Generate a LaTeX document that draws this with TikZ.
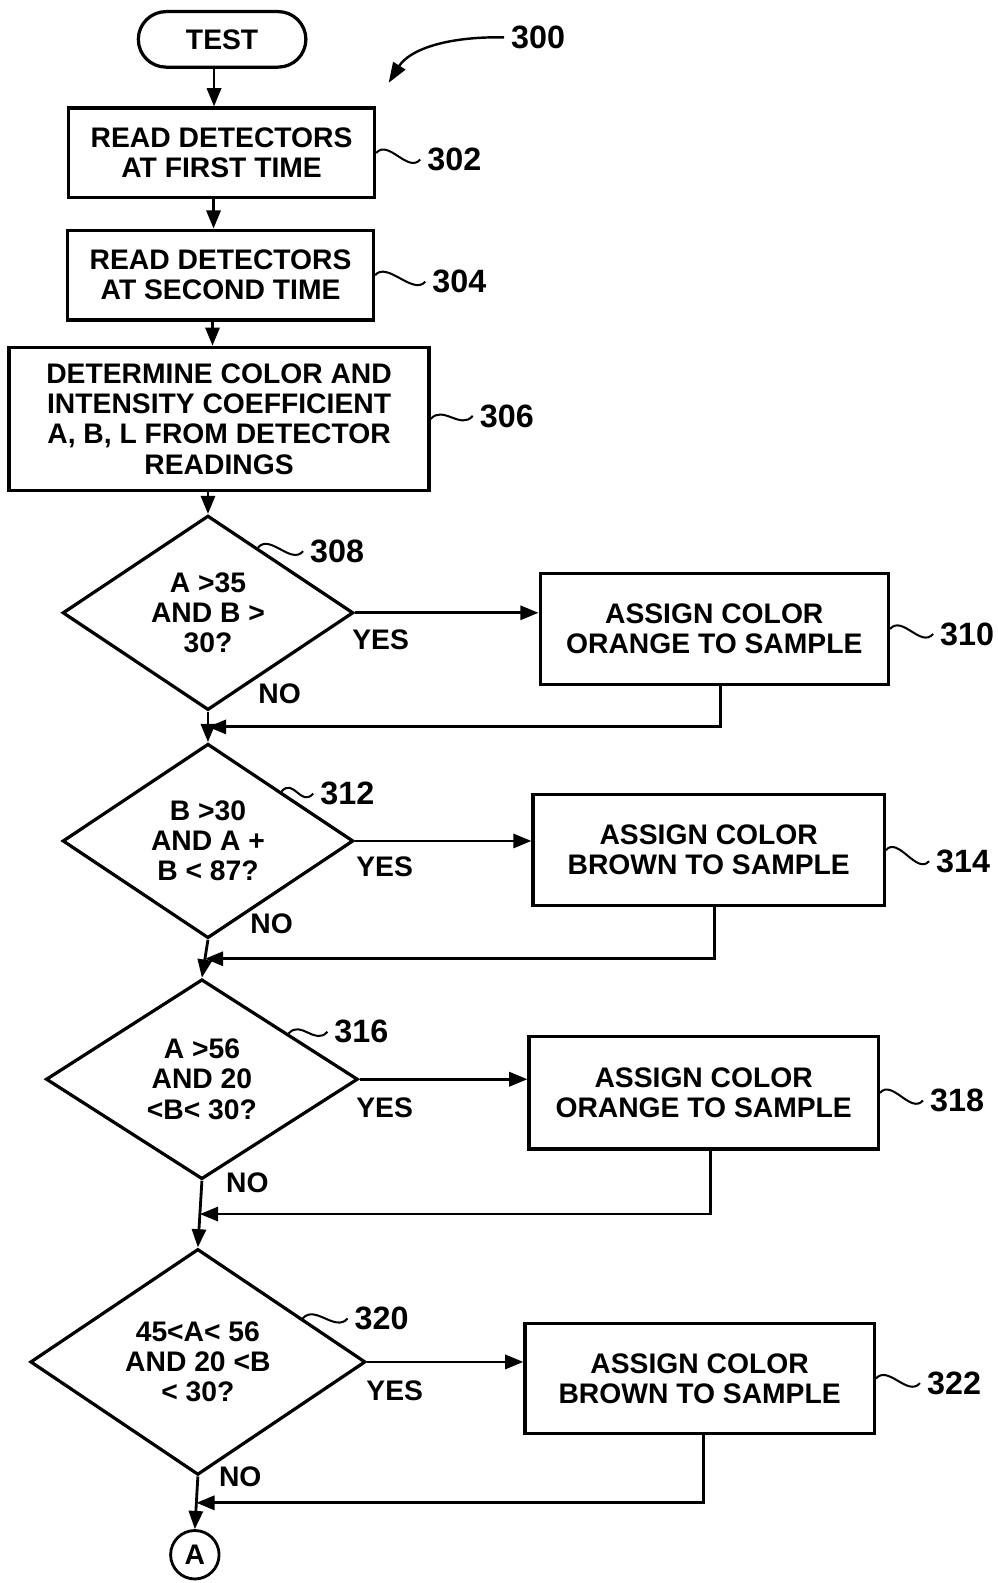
\documentclass[tikz,border=0pt]{standalone}
\usepackage{fontspec}
\setmainfont{Liberation Sans}
\usetikzlibrary{arrows.meta, shapes.geometric, shapes.misc, calc}

\begin{document}
\begin{tikzpicture}[x=0.5pt, y=-0.5pt,
    every node/.style={font=\fontsize{14}{15}\selectfont\bfseries},
    box/.style={draw, line width=1.6pt, align=center, inner sep=0pt},
    term/.style={draw, rounded rectangle, line width=1.6pt, inner sep=0pt,
                 minimum width=83pt, minimum height=27.5pt},
    decision/.style={draw, diamond, line width=1.6pt, align=center, inner sep=0pt},
    conn/.style={draw, circle, line width=1.4pt, inner sep=0pt, minimum size=24pt},
    arr/.style={line width=1.4pt, -{Triangle[length=9pt,width=7pt]}},
    lead/.style={line width=1pt},
    refnum/.style={font=\fontsize{16}{16}\selectfont\bfseries},
    lbl/.style={font=\fontsize{14}{14}\selectfont\bfseries}]
   \useasboundingbox (0,0) rectangle (988,1568);
   % Start and first steps
   \node[term] (test) at (220,39) {TEST};
   \node[box, minimum width=151.5pt, minimum height=44.5pt] (read1) at (219.5,151.5)
      {READ DETECTORS\\AT FIRST TIME};
   \node[box, minimum width=151.5pt, minimum height=44.5pt] (read2) at (218.5,272.5)
      {READ DETECTORS\\AT SECOND TIME};
   \node[box, minimum width=208pt, minimum height=71pt] (determ) at (217,415)
      {DETERMINE COLOR AND\\INTENSITY COEFFICIENT\\A, B, L FROM DETECTOR\\READINGS};
   % Decisions
   \node[decision, minimum width=144pt, minimum height=90pt] (dec1) at (206,607)
      {A >35\\AND B >\\30?};
   \node[decision, minimum width=144pt, minimum height=89pt] (dec2) at (206,833)
      {B >30\\AND A +\\B < 87?};
   \node[decision, minimum width=154.5pt, minimum height=99pt] (dec3) at (200,1069)
      {A >56\\AND 20\\<B< 30?};
   \node[decision, minimum width=166pt, minimum height=111pt] (dec4) at (196,1349)
      {45<A< 56\\AND 20 <B\\< 30?};
   % Colour assignments
   \node[box, minimum width=172.5pt, minimum height=55pt] (orange1) at (707.5,623)
      {ASSIGN COLOR\\ORANGE TO SAMPLE};
   \node[box, minimum width=174pt, minimum height=55pt] (brown1) at (702,842)
      {ASSIGN COLOR\\BROWN TO SAMPLE};
   \node[box, minimum width=173pt, minimum height=55.5pt] (orange2) at (697,1082.5)
      {ASSIGN COLOR\\ORANGE TO SAMPLE};
   \node[box, minimum width=173pt, minimum height=54.5pt] (brown2) at (693,1365.5)
      {ASSIGN COLOR\\BROWN TO SAMPLE};
   \node[conn] (conA) at (193,1540) {A};
   % Main flow
   \draw[arr] ([xshift=-4pt]test.south) -- ([xshift=-4pt]test.south |- read1.north);
   \draw[arr] ([xshift=-4pt]read1.south) -- ([xshift=-4pt]read1.south |- read2.north);
   \draw[arr] ([xshift=-4pt]read2.south) -- ([xshift=-4pt]read2.south |- determ.north);
   \draw[arr] (determ.south -| dec1.north) -- (dec1.north);
   \coordinate (j1) at ($(dec1.south)!0.5!(dec2.north)$);
   \coordinate (j2) at ($(dec2.south)!0.5!(dec3.north)$);
   \coordinate (j3) at ($(dec3.south)!0.5!(dec4.north)$);
   \coordinate (j4) at ($(dec4.south)!0.5!(conA.north)$);
   \draw[arr] (dec1.south) -- (dec2.north);
   \draw[arr] (dec2.south) -- (dec3.north);
   \draw[arr] (dec3.south) -- (dec4.north);
   \draw[arr] (dec4.south) -- (conA.north);
   % YES branches
   \draw[arr] (dec1.east) -- (dec1.east -| orange1.west);
   \draw[arr] (dec2.east) -- (dec2.east -| brown1.west);
   \draw[arr] (dec3.east) -- (dec3.east -| orange2.west);
   \draw[arr] (dec4.east) -- (dec4.east -| brown2.west);
   % Returns
   \draw[arr] ([xshift=3pt]orange1.south) |- (j1);
   \draw[arr] ([xshift=3pt]brown1.south) |- (j2);
   \draw[arr] ([xshift=3.5pt]orange2.south) |- (j3);
   \draw[arr] ([xshift=2pt]brown2.south) |- (j4);
   % Branch labels
   \node[lbl] (yes1) at (377,634) {YES};
   \node[lbl] (no1) at (277,687) {NO};
   \node[lbl] (yes2) at (381,859) {YES};
   \node[lbl] (no2) at (269,915) {NO};
   \node[lbl] (yes3) at (381,1097) {YES};
   \node[lbl] (no3) at (245,1172) {NO};
   \node[lbl] (yes4) at (391,1378) {YES};
   \node[lbl] (no4) at (238,1463) {NO};
   % Reference numerals
   \node[refnum] (r300) at (533,37) {300};
   \coordinate (p300) at (385,82);
   \draw[line width=1.2pt, -{Triangle[length=10pt,width=7pt]}]
      (r300.west) .. controls (440,36) and (405,50) .. (p300);
   \node[refnum] (r302) at (450,158) {302};
   \draw[lead] (read1.east) .. controls +(12,-14) and +(-12,14) .. (r302.west);
   \node[refnum] (r304) at (455,279) {304};
   \draw[lead] (read2.east) .. controls +(12,-14) and +(-12,14) .. (r304.west);
   \node[refnum] (r306) at (502,412) {306};
   \draw[lead] (determ.east) .. controls +(12,-14) and +(-12,14) .. (r306.west);
   \node[refnum] (r308) at (334,546) {308};
   \draw[lead] ($(dec1.north)!0.34!(dec1.east)$) .. controls +(12,-14) and +(-12,14) .. (r308.west);
   \node[refnum] (r310) at (958,628) {310};
   \draw[lead] (orange1.east) .. controls +(12,-14) and +(-12,14) .. (r310.west);
   \node[refnum] (r312) at (344,786) {312};
   \draw[lead] ($(dec2.north)!0.5!(dec2.east)$) .. controls +(12,-14) and +(-12,14) .. (r312.west);
   \node[refnum] (r314) at (954,853) {314};
   \draw[lead] (brown1.east) .. controls +(12,-14) and +(-12,14) .. (r314.west);
   \node[refnum] (r316) at (358,1022) {316};
   \draw[lead] ($(dec3.north)!0.55!(dec3.east)$) .. controls +(12,-14) and +(-12,14) .. (r316.west);
   \node[refnum] (r318) at (948,1090) {318};
   \draw[lead] (orange2.east) .. controls +(12,-14) and +(-12,14) .. (r318.west);
   \node[refnum] (r320) at (378,1306) {320};
   \draw[lead] ($(dec4.north)!0.62!(dec4.east)$) .. controls +(12,-14) and +(-12,14) .. (r320.west);
   \node[refnum] (r322) at (945,1370) {322};
   \draw[lead] (brown2.east) .. controls +(12,-14) and +(-12,14) .. (r322.west);
\end{tikzpicture}
\end{document}
